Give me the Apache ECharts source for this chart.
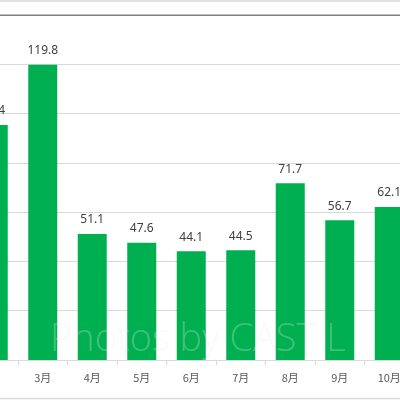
<!DOCTYPE html>
<html>
<head>
<meta charset="utf-8">
<script src="https://cdn.jsdelivr.net/npm/echarts@6/dist/echarts.min.js"></script>
<style>
html,body{margin:0;padding:0;background:#fff;width:400px;height:400px;overflow:hidden;position:relative;}
#chart{position:absolute;left:-32px;top:0;width:560px;height:400px;}
</style>
</head>
<body>
<div id="chart"></div>
<script>
var categories = ['2月','3月','4月','5月','6月','7月','8月','9月','10月','11月'];
var values = [95.4, 119.8, 51.1, 47.6, 44.1, 44.5, 71.7, 56.7, 62.1, null];
var yMin = 0, yMax = 140, yStep = 20;
var watermark = 'Photos by CAST L';

var OX = 32; // horizontal offset of the chart canvas
var chart = echarts.init(document.getElementById('chart'), null, {renderer:'canvas'});
chart.setOption({
  animation:false,
  backgroundColor:'#ffffff',
  grid:{left:0.5, width:495, top:15, bottom:40, containLabel:false},
  xAxis:{
    type:'category',
    data:categories.map(function(c,i){ return i===0 ? {value:c, textStyle:{color:'#8fe8ef'}} : c; }),
    axisLine:{lineStyle:{color:'#d9d9d9', width:1}},
    axisTick:{show:true, length:5, lineStyle:{color:'#d9d9d9'}},
    axisLabel:{color:'#595959', fontSize:11, fontFamily:'"Noto Sans CJK JP", sans-serif', margin:12}
  },
  yAxis:{
    type:'value', min:yMin, max:yMax, interval:yStep,
    axisLabel:{show:false}, axisLine:{show:false}, axisTick:{show:false},
    splitLine:{lineStyle:{color:'#d9d9d9', width:1}}
  },
  series:[{
    type:'bar',
    data:values,
    barWidth:29,
    itemStyle:{color:'#00b050'},
    label:{show:true, position:'top', distance:8, color:'#404040', fontSize:12,
      fontFamily:'"Noto Sans", sans-serif',
      formatter:function(p){ return p.value==null ? '' : p.value.toFixed(1); }}
  }],
  graphic:[
    {type:'line', shape:{x1:OX,y1:1,x2:OX+400,y2:1}, style:{stroke:'#d9d9d9', lineWidth:1.5}, z:100},
    {type:'line', shape:{x1:OX,y1:15.3,x2:OX+400,y2:15.3}, style:{stroke:'#808080', lineWidth:1.5}, z:100},
    {type:'line', shape:{x1:OX,y1:398.5,x2:OX+400,y2:398.5}, style:{stroke:'#d9d9d9', lineWidth:1.5}, z:100},
    {type:'text', left:OX+50, top:321, z:100,
      style:{text:watermark, fontSize:38, fontFamily:'"Open Sans", sans-serif', fontWeight:300,
        fill:'rgba(235,235,235,0.28)'}}
  ]
});
</script>
</body>
</html>
